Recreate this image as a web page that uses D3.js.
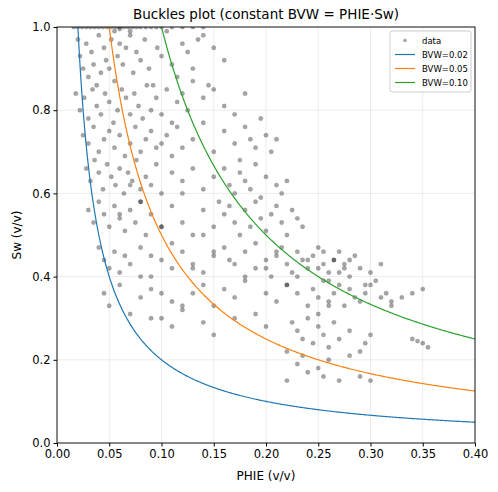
<!DOCTYPE html>
<html><head><meta charset="utf-8">
<script src="https://cdn.jsdelivr.net/npm/d3@7"></script>
<style>body{margin:0;background:#fff}text{font-family:"DejaVu Sans",sans-serif}</style>
</head><body><svg id="c" width="498" height="492"></svg>
<script>
const title = "Buckles plot (constant BVW = PHIE·Sw)";
const xTicks = [0,0.05,0.10,0.15,0.20,0.25,0.30,0.35,0.40];
const yTicks = [0,0.2,0.4,0.6,0.8,1.0];
const bvwLevels = [0.02,0.05,0.10];
const lineColors = ["#1f77b4","#ff7f0e","#2ca02c"];
// data points [PHIE, Sw]
const phie = [0.016,0.02,0.024,0.028,0.032,0.036,0.04,0.044,0.048,0.052,0.056,0.06,0.064,0.068,0.072,0.076,0.08,0.085,0.09,0.095,0.10,0.11,0.12,0.13,0.14,0.055,0.06,0.07,
0.02,0.022,0.025,0.028,0.03,0.033,0.035,0.038,0.04,0.042,0.045,0.047,0.05,0.052,0.055,0.058,0.06,0.063,0.066,0.07,0.073,0.076,0.08,0.084,0.088,0.092,0.096,0.10,0.105,0.11,0.115,0.12,0.125,0.13,0.135,0.14,0.145,0.15,0.16,
0.018,0.022,0.026,0.03,0.034,0.038,0.042,0.046,0.05,0.054,0.058,0.062,0.066,0.07,0.074,0.078,0.082,0.086,0.09,0.095,0.10,0.105,0.11,0.115,0.12,0.125,0.13,0.14,0.15,0.16,0.17,0.18,
0.025,0.03,0.035,0.04,0.045,0.05,0.055,0.06,0.065,0.07,0.075,0.08,0.085,0.09,0.095,0.10,0.105,0.11,0.115,0.12,0.13,0.14,0.15,0.16,0.17,0.175,0.18,0.185,0.19,0.195,0.20,0.205,0.21,
0.028,0.032,0.036,0.04,0.044,0.048,0.052,0.056,0.06,0.064,0.068,0.072,0.076,0.08,0.085,0.09,0.095,0.10,0.11,0.12,0.13,0.14,0.15,0.155,0.16,0.165,0.17,0.175,0.18,0.185,0.19,0.195,0.20,0.21,0.215,0.22,
0.03,0.035,0.04,0.045,0.05,0.055,0.06,0.065,0.07,0.075,0.08,0.085,0.09,0.10,0.11,0.12,0.13,0.14,0.15,0.16,0.165,0.17,0.175,0.18,0.185,0.19,0.195,0.20,0.205,0.21,0.215,0.22,0.225,0.23,0.235,
0.04,0.045,0.05,0.055,0.06,0.065,0.07,0.08,0.09,0.10,0.11,0.12,0.13,0.14,0.15,0.16,0.17,0.18,0.19,0.20,0.205,0.21,0.215,0.22,0.225,0.23,0.235,0.24,0.245,0.25,0.255,0.26,0.265,0.27,0.275,0.28,
0.045,0.05,0.06,0.07,0.08,0.09,0.10,0.11,0.12,0.13,0.14,0.15,0.16,0.17,0.18,0.19,0.20,0.21,0.22,0.23,0.24,0.245,0.25,0.255,0.26,0.265,0.27,0.275,0.28,0.285,0.29,0.295,0.30,0.31,0.32,
0.06,0.07,0.08,0.09,0.10,0.11,0.12,0.13,0.14,0.15,0.165,0.18,0.19,0.20,0.21,0.22,0.23,0.24,0.25,0.255,0.26,0.265,0.27,0.275,0.28,0.285,0.29,0.295,0.30,0.305,0.31,0.315,0.32,0.33,0.34,0.35,
0.08,0.09,0.10,0.11,0.12,0.14,0.15,0.17,0.20,0.22,0.225,0.23,0.235,0.24,0.245,0.25,0.255,0.26,0.265,0.27,0.28,0.29,0.295,0.30,0.35,0.345,0.34,0.355,
0.22,0.23,0.24,0.25,0.255,0.26,0.27,0.28,0.29,0.30,0.25,0.26,0.235];
const sw = [1,1,1,1,1,1,1,1,1,1,1,1,1,1,1,1,1,1,1,1,1,1,1,1,1,0.99,0.995,0.99,
0.97,0.93,0.9,0.96,0.88,0.94,0.91,0.86,0.98,0.89,0.95,0.92,0.9,0.97,0.87,0.93,0.96,0.91,0.95,0.98,0.89,0.94,0.92,0.97,0.9,0.86,0.95,0.93,0.99,0.91,0.88,0.96,0.94,0.9,0.97,0.98,0.86,0.95,0.92,
0.84,0.8,0.83,0.78,0.85,0.81,0.79,0.84,0.82,0.77,0.8,0.85,0.83,0.79,0.84,0.81,0.78,0.86,0.8,0.83,0.79,0.85,0.77,0.82,0.84,0.8,0.87,0.83,0.85,0.81,0.79,0.84,
0.74,0.72,0.76,0.7,0.73,0.75,0.71,0.74,0.69,0.72,0.76,0.7,0.73,0.75,0.71,0.72,0.74,0.69,0.76,0.71,0.73,0.77,0.7,0.75,0.72,0.68,0.76,0.73,0.71,0.78,0.74,0.7,0.73,
0.66,0.63,0.68,0.65,0.61,0.67,0.64,0.62,0.66,0.6,0.65,0.63,0.68,0.61,0.64,0.62,0.67,0.6,0.65,0.63,0.66,0.61,0.64,0.58,0.66,0.62,0.6,0.65,0.63,0.61,0.67,0.59,0.64,0.62,0.6,0.63,
0.56,0.53,0.58,0.55,0.52,0.57,0.54,0.51,0.56,0.53,0.58,0.5,0.55,0.52,0.57,0.53,0.5,0.56,0.52,0.55,0.57,0.53,0.5,0.56,0.52,0.58,0.54,0.51,0.55,0.57,0.53,0.5,0.56,0.54,0.52,
0.47,0.44,0.42,0.46,0.41,0.45,0.43,0.47,0.4,0.44,0.42,0.46,0.43,0.41,0.45,0.47,0.43,0.46,0.42,0.44,0.4,0.45,0.47,0.43,0.41,0.46,0.44,0.42,0.45,0.47,0.43,0.41,0.44,0.46,0.42,0.44,
0.36,0.33,0.38,0.31,0.35,0.37,0.3,0.34,0.32,0.36,0.38,0.33,0.37,0.35,0.39,0.31,0.36,0.34,0.38,0.36,0.33,0.37,0.35,0.39,0.34,0.36,0.38,0.33,0.37,0.35,0.34,0.36,0.38,0.35,0.33,
0.55,0.62,0.58,0.45,0.52,0.48,0.6,0.42,0.5,0.46,0.44,0.4,0.48,0.42,0.46,0.38,0.4,0.44,0.42,0.46,0.39,0.44,0.41,0.43,0.4,0.45,0.42,0.38,0.41,0.39,0.43,0.36,0.34,0.35,0.36,0.37,
0.4,0.3,0.36,0.28,0.33,0.29,0.26,0.3,0.28,0.22,0.29,0.27,0.25,0.3,0.24,0.28,0.26,0.23,0.29,0.25,0.27,0.22,0.24,0.26,0.24,0.245,0.25,0.23,
0.15,0.19,0.17,0.18,0.16,0.2,0.15,0.21,0.16,0.15,0.31,0.33,0.21];
const data = phie.map((p,i)=>({p, s:sw[i]}));

const svg = d3.select("#c");
const m = {l:57,r:475,t:27,b:443};
const x = d3.scaleLinear().domain([0,0.4]).range([m.l,m.r]);
const y = d3.scaleLinear().domain([0,1]).range([m.b,m.t]);

svg.append("g").selectAll("line.gx").data(xTicks).join("line")
  .attr("x1",d=>x(d)).attr("x2",d=>x(d)).attr("y1",m.t).attr("y2",m.b)
  .attr("stroke","#b0b0b0").attr("stroke-opacity",0.3).attr("stroke-width",0.8);
svg.append("g").selectAll("line.gy").data(yTicks).join("line")
  .attr("y1",d=>y(d)).attr("y2",d=>y(d)).attr("x1",m.l).attr("x2",m.r)
  .attr("stroke","#b0b0b0").attr("stroke-opacity",0.3).attr("stroke-width",0.8);

svg.append("defs").append("clipPath").attr("id","clip").append("rect")
  .attr("x",m.l).attr("y",m.t).attr("width",m.r-m.l).attr("height",m.b-m.t);
const plot = svg.append("g").attr("clip-path","url(#clip)");

plot.selectAll("circle").data(data).join("circle")
  .attr("cx",d=>x(d.p)).attr("cy",d=>y(d.s)).attr("r",2.2)
  .attr("fill","#000").attr("fill-opacity",0.35)
  .attr("stroke","#000").attr("stroke-opacity",0.2).attr("stroke-width",0.5);

const line = d3.line().x(d=>x(d[0])).y(d=>y(d[1]));
bvwLevels.forEach((b,i)=>{
  const pts = d3.range(0.005,0.4001,0.001).map(p=>[p, Math.min(b/p,1.2)]);
  plot.append("path").attr("d",line(pts)).attr("fill","none")
    .attr("stroke",lineColors[i]).attr("stroke-width",1.2);
});

svg.append("rect").attr("x",m.l).attr("y",m.t).attr("width",m.r-m.l).attr("height",m.b-m.t)
  .attr("fill","none").attr("stroke","#000").attr("stroke-width",0.9);

const xa = svg.append("g").attr("transform",`translate(0,${m.b})`)
  .call(d3.axisBottom(x).tickValues(xTicks).tickFormat(d3.format(".2f")).tickSize(3.5));
const ya = svg.append("g").attr("transform",`translate(${m.l},0)`)
  .call(d3.axisLeft(y).tickValues(yTicks).tickFormat(d3.format(".1f")).tickSize(3.5));
[xa,ya].forEach(a=>{a.select(".domain").remove();
  a.selectAll("text").attr("font-size",11.5).attr("fill","#000").attr("font-family","DejaVu Sans");
  a.selectAll("line").attr("stroke","#000");});

svg.append("text").attr("x",(m.l+m.r)/2).attr("y",19).attr("text-anchor","middle")
  .attr("font-size",13.5).text(title);
svg.append("text").attr("x",(m.l+m.r)/2).attr("y",480).attr("text-anchor","middle")
  .attr("font-size",12).text("PHIE (v/v)");
svg.append("text").attr("transform",`translate(21,${(m.t+m.b)/2}) rotate(-90)`)
  .attr("text-anchor","middle").attr("font-size",12).text("Sw (v/v)");

const lg = svg.append("g").attr("transform","translate(390,31)");
lg.append("rect").attr("width",81).attr("height",61).attr("rx",2.5)
  .attr("fill","#fff").attr("fill-opacity",0.8).attr("stroke","#ccc");
lg.append("circle").attr("cx",15).attr("cy",9.5).attr("r",1.8).attr("fill","#000").attr("fill-opacity",0.35);
const labels = ["data",...bvwLevels.map(b=>"BVW="+b.toFixed(2))];
labels.forEach((t,i)=>{
  lg.append("text").attr("x",32).attr("y",12.5+i*14).attr("font-size",8.5).text(t);
  if(i>0) lg.append("line").attr("x1",5).attr("x2",25).attr("y1",9.5+i*14).attr("y2",9.5+i*14)
    .attr("stroke",lineColors[i-1]).attr("stroke-width",1.2);
});
</script></body></html>
